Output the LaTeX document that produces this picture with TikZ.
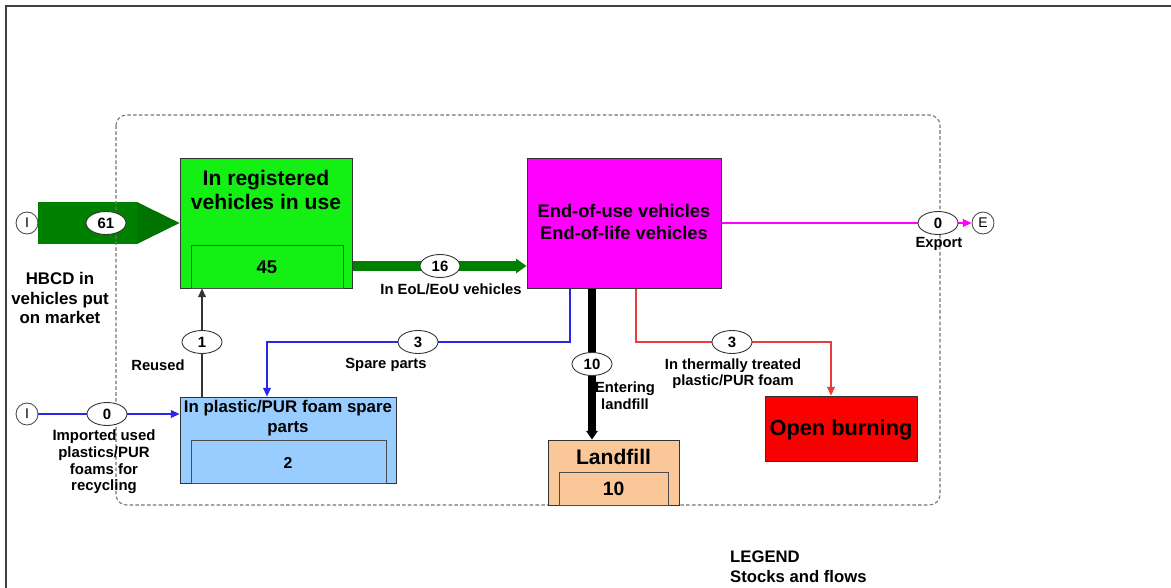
\documentclass[tikz,border=0pt]{standalone}
\usepackage{fontspec}
\setmainfont{Liberation Sans}
\usetikzlibrary{arrows.meta,shapes.geometric}
\pgfdeclarelayer{background}
\pgfsetlayers{background,main}
\definecolor{usegreen}{RGB}{20,240,20}
\definecolor{flowgreen}{RGB}{0,128,0}
\definecolor{eolpink}{RGB}{255,0,255}
\definecolor{spareblue}{RGB}{153,204,255}
\definecolor{fillpeach}{RGB}{250,200,152}
\definecolor{burnred}{RGB}{250,0,0}
\definecolor{flowblue}{RGB}{40,40,230}
\definecolor{flowred}{RGB}{235,60,60}
\tikzset{
  stock/.style={draw=black!80, line width=0.5pt, inner sep=0pt},
  inner stock/.style={draw=black!70, line width=0.4pt, inner sep=0pt}
  }
\tikzstyle{value} = [ellipse, draw=black!80, fill=white, line width=0.5pt, minimum width=0.8cm, minimum height=0.46cm, inner sep=0pt, font=\bfseries\fontsize{8.5}{9}\selectfont]
\tikzstyle{terminal} = [circle, draw=black!70, fill=white, line width=0.5pt, minimum size=0.44cm, inner sep=0pt, font=\fontsize{8}{9}\selectfont]
\tikzstyle{flowlabel} = [align=center, font=\bfseries\fontsize{8.4}{9.6}\selectfont]
\tikzstyle{thin flow} = [draw, line width=0.6pt, -{Triangle[length=5pt,width=4.5pt]}]

\begin{document}
\begin{tikzpicture}[x=0.02cm, y=-0.02cm]
  \useasboundingbox (0,0) rectangle (1171,588);
  % frame and system boundary
  \draw[black!75, line width=0.8pt] (6,588) -- (6,6) -- (1171,6);
  \draw[black!55, line width=0.6pt, dash pattern=on 2pt off 1.3pt, rounded corners=6pt] (116,115) rectangle (940,505);

  % stocks
  \node[stock, fill=usegreen, minimum width=3.44cm, minimum height=2.6cm] (use) at (266,223) {};
  \node[inner stock, fill=usegreen, minimum width=3.04cm, minimum height=0.86cm] (useval) at (267,266.5) {};
  \node[stock, fill=eolpink, minimum width=3.88cm, minimum height=2.6cm] (eol) at (624,223) {};
  \node[stock, fill=spareblue, minimum width=4.32cm, minimum height=1.72cm] (spare) at (288,440) {};
  \node[inner stock, fill=spareblue, minimum width=3.9cm, minimum height=0.86cm] (spareval) at (288.5,461.5) {};
  \node[stock, fill=fillpeach, minimum width=2.62cm, minimum height=1.3cm] (landfill) at (613.5,472.5) {};
  \node[inner stock, fill=fillpeach, minimum width=2.18cm, minimum height=0.66cm] (landval) at (613.5,488.5) {};
  \node[stock, fill=burnred, minimum width=3.04cm, minimum height=1.3cm] (burn) at (841,428.5) {};

  % stock texts
  \node[align=center, font=\bfseries\fontsize{12}{14}\selectfont] (usetxt) at (266,190) {In registered\\vehicles in use};
  \node[font=\bfseries\fontsize{10.5}{12}\selectfont] (usenum) at (267,267) {45};
  \node[align=center, font=\bfseries\fontsize{10.4}{12}\selectfont] (eoltxt) at (624,222) {End-of-use vehicles\\End-of-life vehicles};
  \node[align=center, font=\bfseries\fontsize{9.6}{11.3}\selectfont] (sparetxt) at (288,418) {In plastic/PUR foam spare\\parts};
  \node[font=\bfseries\fontsize{9}{10}\selectfont] (sparenum) at (288,463) {2};
  \node[font=\bfseries\fontsize{12}{14}\selectfont] (landtxt) at (613.5,457) {Landfill};
  \node[font=\bfseries\fontsize{11}{13}\selectfont] (landnum) at (613.5,489) {10};
  \node[font=\bfseries\fontsize{12.4}{14}\selectfont] (burntxt) at (841,430) {Open burning};

  % terminals and flow values
  \foreach \pos/\name/\txt in {{(27,223)/inI/I}, {(27,414)/impI/I}, {(983,223)/expE/E}}
    \node[terminal] (\name) at \pos {\txt};
  \foreach \pos/\name/\val in {{(106,223)/v61/61}, {(440,266)/v16/16}, {(938,223)/vexp/0},
      {(202,342)/vreuse/1}, {(418,342)/vspare/3}, {(592,364)/vland/10},
      {(732,342)/vburn/3}, {(107,414)/vimp/0}}
    \node[value] (\name) at \pos {\val};

  % flow labels
  \node[align=center, font=\bfseries\fontsize{9.6}{11.3}\selectfont] (hbcd) at (60,298) {HBCD in\\vehicles put\\on market};
  \node[flowlabel] (lbl16) at (451,289) {In EoL/EoU vehicles};
  \node[flowlabel] (lblexp) at (939,244) {Export};
  \node[flowlabel] (lblreuse) at (158,365) {Reused};
  \node[flowlabel] (lblspare) at (386,365) {Spare parts};
  \node[flowlabel] (lblland) at (625,396) {Entering\\landfill};
  \node[flowlabel, font=\bfseries\fontsize{8.4}{9}\selectfont] (lblburn) at (733,374) {In thermally treated\\plastic/PUR foam};
  \node[flowlabel, font=\bfseries\fontsize{8.5}{9.5}\selectfont] (lblimp) at (104,462) {Imported used\\plastics/PUR\\foams for\\recycling};
  \node[anchor=west, align=left, font=\bfseries\fontsize{9.5}{11.3}\selectfont] (legend) at (724,567) {LEGEND\\Stocks and flows};

  \begin{pgfonlayer}{background}
    % put on market
    \fill[flowgreen] (inI.east |- 0,202) rectangle (137,244);
    \fill[flowgreen!90!black] (137,202) -- (use.west) -- (137,244) -- cycle;
    % flows
    \path[draw=flowgreen, line width=5.6pt, -{Triangle[length=6pt,width=8pt]}] (use.east |- v16) -- (eol.west |- v16);
    \path[draw=black, line width=4.4pt, -{Triangle[length=5pt,width=6.5pt]}] (eol.south -| vland) -- (landfill.north -| vland);
    \path[thin flow, eolpink] (eol.east |- vexp) -- (expE.west);
    \path[thin flow, black!80] (spare.north -| vreuse) -- (use.south -| vreuse);
    \path[thin flow, flowblue] (impI.east) -- (spare.west |- impI);
    \path[thin flow, flowblue] ([xshift=-1.08cm]eol.south) |- (vspare) -| ([xshift=-0.42cm]spare.north);
    \path[thin flow, flowred] ([xshift=0.24cm]eol.south) |- (vburn) -| ([xshift=-0.2cm]burn.north);
  \end{pgfonlayer}
\end{tikzpicture}
\end{document}
